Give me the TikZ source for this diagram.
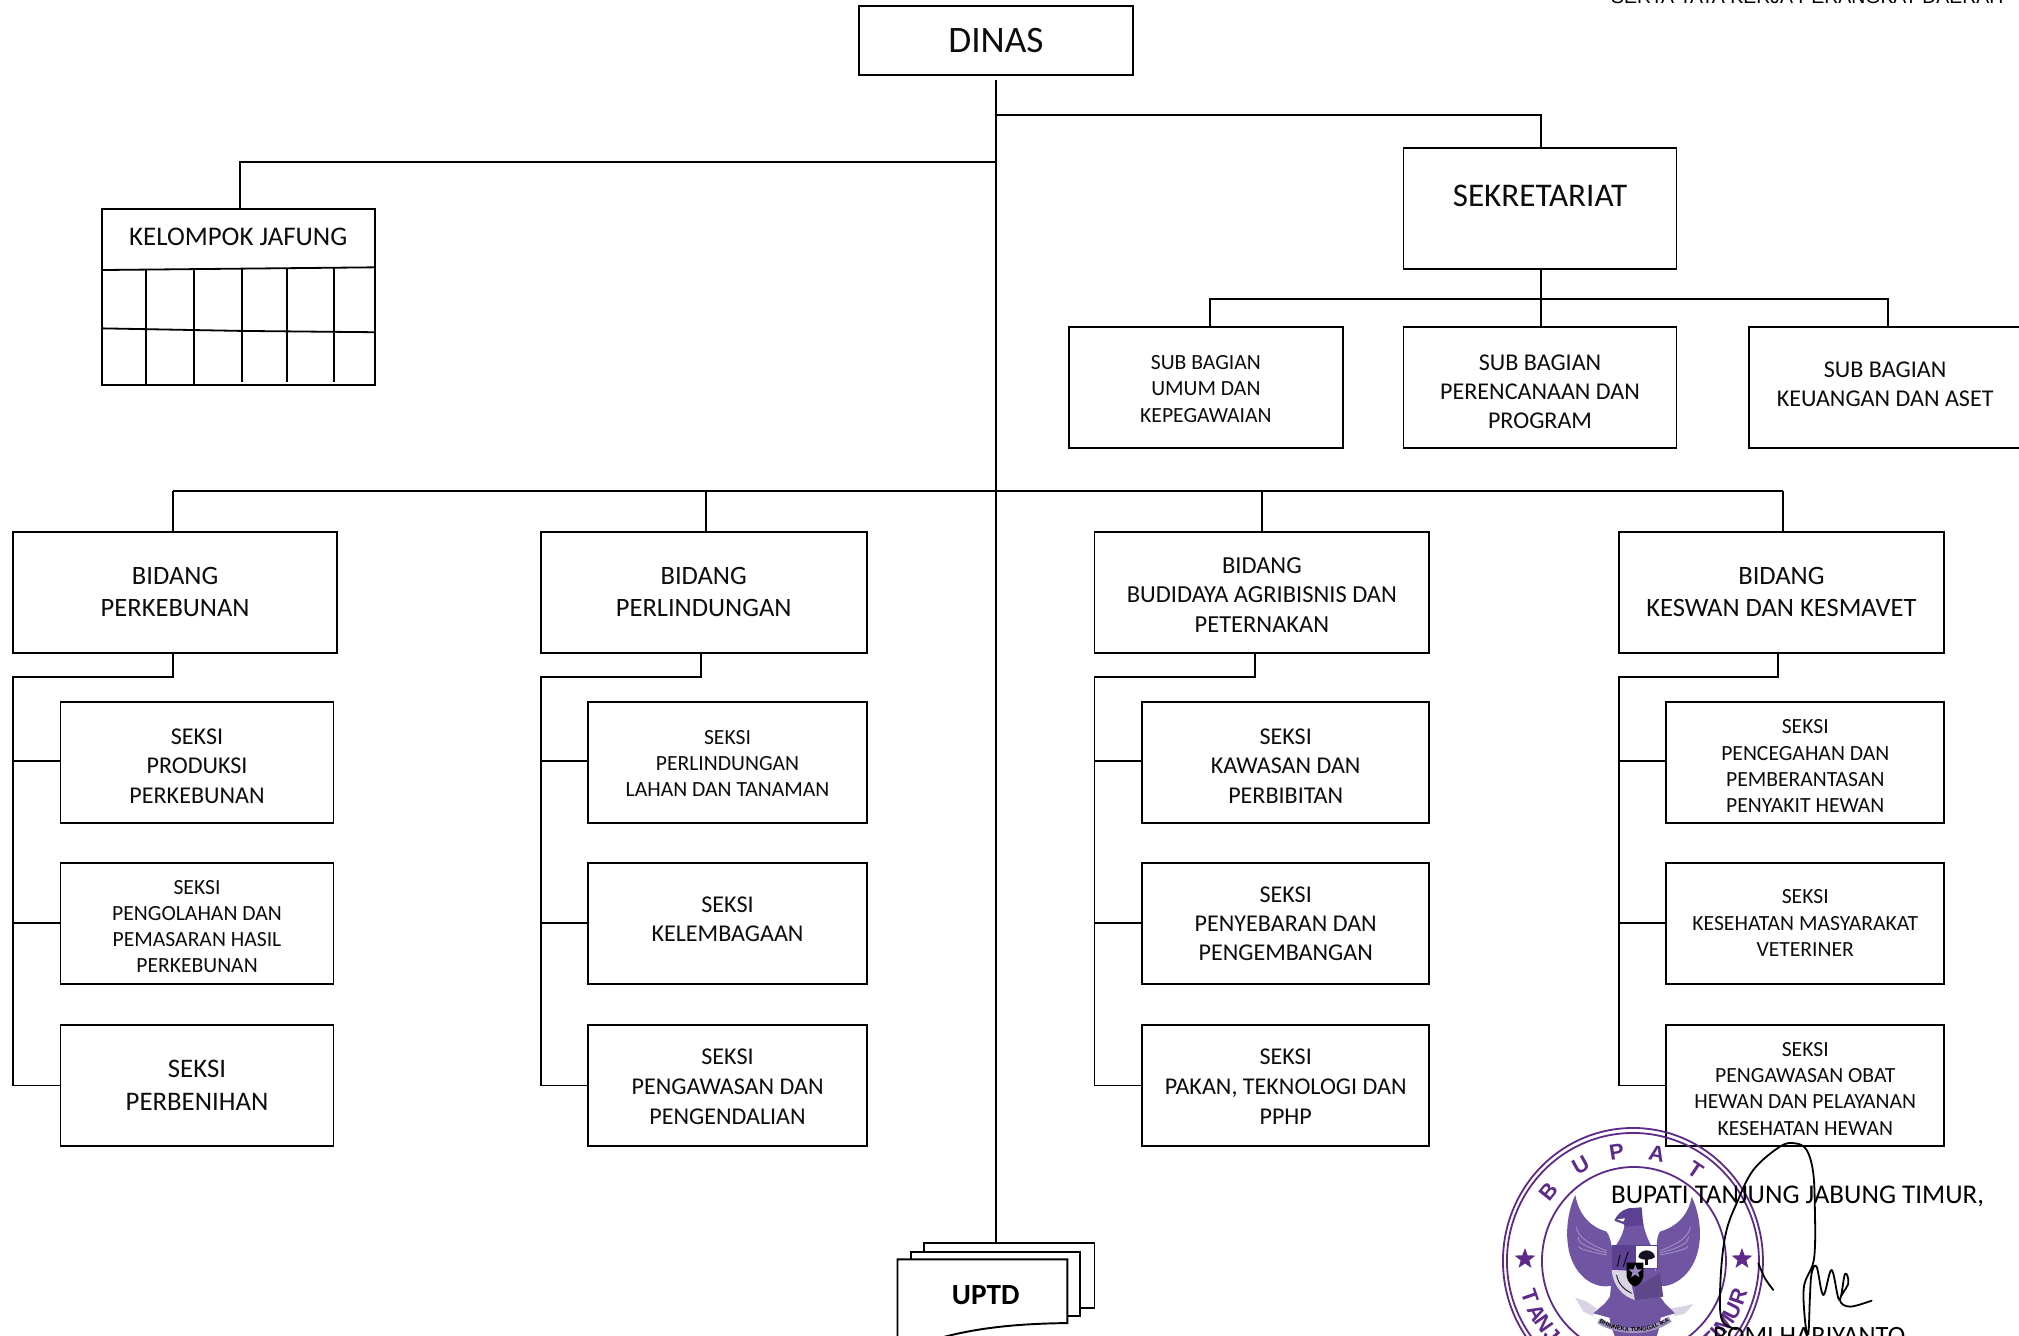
\documentclass[tikz,border=0pt]{standalone}
\usepackage{fontspec}
\setmainfont{Carlito}
\newfontfamily\lib{Liberation Sans}
\usetikzlibrary{shapes.geometric,decorations.text}
\definecolor{sealp}{HTML}{5E2A8A}
\definecolor{wing}{HTML}{7055A3}
\definecolor{wingd}{HTML}{5C4192}
\definecolor{ribbon}{HTML}{D9D4E4}
\newcommand\fsz[2]{\fontsize{#1}{#2}\selectfont}
% name, x1, y1, x2, y2, font style, text offset, text
\newcommand\bx[8]{%
  \pgfmathsetmacro\bw{#4-#2}\pgfmathsetmacro\bh{#5-#3}%
  \pgfmathsetmacro\cx{(#2+#4)/2}\pgfmathsetmacro\cy{(#3+#5)/2}%
  \node[box,minimum width=\bw pt,minimum height=\bh pt] (#1) at (\cx,\cy) {};
  \node[boxtext,#6] (#1t) at (\cx,\cy+#7) {#8};}
\tikzset{
  box/.style={draw=black,fill=white,line width=1.5pt,inner sep=0pt,outer sep=0pt},
  boxtext/.style={align=center,inner sep=0pt,text=black!95},
  fa/.style={font=\fsz{18.7}{23}},
  fb/.style={font=\fsz{16.8}{20.4}},
  fc/.style={font=\fsz{20.6}{25}},
  fd/.style={font=\fsz{20.8}{26}},
  fe/.style={font=\fsz{18.7}{22.5}},
  ff/.style={font=\fsz{19}{23}},
  link/.style={draw=black,line width=1.5pt},
  grid/.style={draw=black,line width=1.4pt},
  seal/.style={draw=sealp,line width=1.4pt},
  sealletter/.style={text=sealp,font=\lib\bfseries\fsz{17}{18},inner sep=0pt},
  sealstar/.style={star,star points=5,star point ratio=2.4,fill=sealp,inner sep=0pt,minimum size=17pt},
  page/.style={draw=black,fill=white,line width=1.5pt},
  sign/.style={draw=black,line width=1.4pt,line cap=round,line join=round},
  feather/.style={draw=white!35!wing,line width=0.7pt},
}
\begin{document}
\begin{tikzpicture}[x=1pt,y=-1pt]
\useasboundingbox (0,0) rectangle (1568,1036.9);
\clip (0,0) rectangle (1568,1036.9);
\node[anchor=base east,inner sep=0pt,font=\lib\fsz{15.1}{16}] (perda) at (1556,3) {SERTA TATA KERJA PERANGKAT DAERAH};
% junctions
\coordinate (t0) at (773.5,62);
\coordinate (t1) at (773.5,89);
\coordinate (t2) at (773.5,126);
\coordinate (t3) at (773.5,381);
\coordinate (sekin) at (1197,89);
\coordinate (kelin) at (186.5,126);
\coordinate (subj) at (1197,232);
\coordinate (sub1j) at (940,232);
\coordinate (sub3j) at (1466,232);
\coordinate (b1j) at (134.5,381);
\coordinate (b2j) at (548,381);
\coordinate (b3j) at (980,381);
\coordinate (b4j) at (1385,381);
\bx{dinas}{667}{5}{880}{58}{font=\fsz{29}{30}}{0}{DINAS}
\bx{sek}{1090}{115}{1302}{209}{font=\fsz{25.7}{27}}{-10}{SEKRETARIAT}
\bx{kel}{79}{162}{291}{299}{font=\fsz{20.9}{22}}{-46.5}{KELOMPOK JAFUNG}
\draw[grid] (79,209.7) -- (291,207.6);
\draw[grid] (79,255) -- (188,257) -- (291,258);
\draw[grid] (113.4,209) -- (113.4,299);
\draw[grid] (150.7,209) -- (150.7,299);
\draw[grid] (188,208) -- (188,296.5);
\draw[grid,line width=1.1pt] (222.9,208) -- (222.9,296.5);
\draw[grid] (259.4,208) -- (259.4,296.5);
\bx{sub1}{830}{254}{1043}{348}{fb}{1}{SUB BAGIAN\\UMUM DAN\\KEPEGAWAIAN}
\bx{sub2}{1090}{254}{1302}{348}{fe}{3}{SUB BAGIAN\\PERENCANAAN DAN\\PROGRAM}
\bx{sub3}{1358}{254}{1570}{348}{fe}{-2.5}{SUB BAGIAN\\KEUANGAN DAN ASET}
\bx{bid1}{10}{413}{262}{507}{fc}{0}{BIDANG\\PERKEBUNAN}
\bx{bid2}{420}{413}{673}{507}{fc}{0}{BIDANG\\PERLINDUNGAN}
\bx{bid3}{850}{413}{1110}{507}{ff}{2}{BIDANG\\BUDIDAYA AGRIBISNIS DAN\\PETERNAKAN}
\bx{bid4}{1257}{413}{1510}{507}{fc}{0}{BIDANG\\KESWAN DAN KESMAVET}
\bx{s11}{47}{545}{259}{639}{fa}{3}{SEKSI\\PRODUKSI\\PERKEBUNAN}
\bx{s12}{47}{670}{259}{764}{fb}{2.5}{SEKSI\\PENGOLAHAN DAN\\PEMASARAN HASIL\\PERKEBUNAN}
\bx{s13}{47}{796}{259}{890}{fd}{0}{SEKSI\\PERBENIHAN}
\bx{s21}{457}{545}{673}{639}{fb}{1}{SEKSI\\PERLINDUNGAN\\LAHAN DAN TANAMAN}
\bx{s22}{457}{670}{673}{764}{fe}{-3}{SEKSI\\KELEMBAGAAN}
\bx{s23}{457}{796}{673}{890}{fa}{1}{SEKSI\\PENGAWASAN DAN\\PENGENDALIAN}
\bx{s31}{887}{545}{1110}{639}{fa}{3}{SEKSI\\KAWASAN DAN\\PERBIBITAN}
\bx{s32}{887}{670}{1110}{764}{fe}{0.5}{SEKSI\\PENYEBARAN DAN\\PENGEMBANGAN}
\bx{s33}{887}{796}{1110}{890}{fa}{1}{SEKSI\\PAKAN, TEKNOLOGI DAN\\PPHP}
\bx{s41}{1294}{545}{1510}{639}{fb}{3}{SEKSI\\PENCEGAHAN DAN\\PEMBERANTASAN\\PENYAKIT HEWAN}
\bx{s42}{1294}{670}{1510}{764}{fb}{0}{SEKSI\\KESEHATAN MASYARAKAT\\VETERINER}
\bx{s43}{1294}{796}{1510}{890}{fb}{2.5}{SEKSI\\PENGAWASAN OBAT\\HEWAN DAN PELAYANAN\\KESEHATAN HEWAN}
% UPTD stack
\path[page] (717.6,1016) -- (717.6,965.5) -- (850,965.5) -- (850,1016) -- cycle;
\path[page] (707.6,1022) -- (707.6,972) -- (838.7,972) -- (838.7,1022) -- cycle;
\path[page] (697,1045) -- (697,978) -- (829,978) -- (829,1027.5) .. controls (790,1028) and (755,1031) .. (720,1042) -- (697,1045);
\node[inner sep=0pt,font=\bfseries\fsz{22.7}{23}] (uptd) at (765.5,1006) {UPTD};
\coordinate (uptdtop) at (773.5,965.5);
% links
\draw[link] (t0) -- (uptdtop);
\draw[link] (t1) -- (sekin) -- (sekin |- sek.north);
\draw[link] (t2) -- (kelin) -- (kelin |- kel.north);
\draw[link] (sekin |- sek.south) -- (sekin |- sub2.north);
\draw[link] (sub1j |- sub1.north) -- (sub1j) -- (sub3j) -- (sub3j |- sub3.north);
\draw[link] (b1j) -- (b4j);
\foreach \j/\b in {b1j/bid1,b2j/bid2,b3j/bid3,b4j/bid4}{\draw[link] (\j) -- (\j |- \b.north);}
\foreach \b/\x/\l/\a/\c/\e in {bid1/134.5/10/s11/s12/s13,bid2/544.5/420/s21/s22/s23,bid3/974.5/850/s31/s32/s33,bid4/1381/1257/s41/s42/s43}{
  \coordinate (railtop) at (\x,526);
  \coordinate (rail) at (\l,526);
  \coordinate (railend) at (\l,843);
  \draw[link] (railtop |- \b.south) -- (railtop) -- (rail) -- (railend) -- (\e.west |- railend);
  \draw[link] (\l,591) -- (\a.west |- 0,591);
  \draw[link] (\l,717) -- (\c.west |- 0,717);
}
% seal, in full-size pixel coordinates
\begin{scope}[x=0.7766pt,y=-0.7766pt]
  \draw[seal] (1633,1261) ellipse [x radius=130,y radius=133];
  \draw[seal] (1633,1261) ellipse [x radius=126,y radius=128];
  \draw[seal] (1634,1261) ellipse [x radius=92,y radius=94];
  \node[sealstar] (st1) at (1525,1259) {};
  \node[sealstar] (st2) at (1742,1259) {};
  \foreach \c/\a in {B/141,U/119,P/99,A/78,T/56}{
    \node[sealletter,rotate=\a-90] (top\a) at ({1634+110*cos(\a)},{1261-110*sin(\a)}) {\c};}
  \foreach \c/\a in {T/199,A/208,N/215,J/222,R/341,U/333,M/325,I/319,T/314}{
    \node[sealletter,rotate=\a-270] (bot\a) at ({1634+110*cos(\a)},{1261-110*sin(\a)}) {\c};}
\end{scope}
% eagle, crop coordinates at 3x from (1560,1190)
\begin{scope}[shift={(1560*0.7766pt,-1190*0.7766pt)},x=0.25887pt,y=-0.25887pt]
  \fill[wing] (46,15) .. controls (58,80) and (95,112) .. (140,125) .. controls (150,140) and (155,160) .. (158,190) -- (160,285) .. controls (120,300) and (55,275) .. (30,195) .. controls (12,130) and (25,60) .. (46,15) -- cycle;
  \fill[wing] (395,20) .. controls (385,80) and (345,112) .. (300,125) .. controls (290,140) and (290,160) .. (290,190) -- (285,285) .. controls (320,300) and (390,270) .. (412,190) .. controls (430,130) and (415,60) .. (395,20) -- cycle;
  \foreach \r in {40,70,100}{
    \draw[feather] (140,{175+\r*0.2}) .. controls ({110-\r*0.5},{150+\r*0.3}) and ({60-\r*0.1},{130+\r*0.4}) .. ({40+\r*0.2},{70+\r});
    \draw[feather] (300,{175+\r*0.2}) .. controls ({330+\r*0.5},{150+\r*0.3}) and ({380+\r*0.1},{130+\r*0.4}) .. ({400-\r*0.2},{70+\r});
  }
  \fill[wing] (195,100) -- (250,100) .. controls (255,130) and (265,150) .. (275,170) -- (300,320) .. controls (300,350) and (310,380) .. (290,440) -- (165,440) .. controls (140,380) and (145,340) .. (150,320) -- (165,170) .. controls (180,150) and (190,130) .. (195,100) -- cycle;
  \fill[wingd] (163,92) .. controls (170,75) and (185,60) .. (205,55) -- (245,52) -- (250,105) -- (195,110) .. controls (195,100) and (180,100) .. (163,92) -- cycle;
  \fill[white] (172,88) -- (195,85) -- (190,95) -- cycle;
  \fill[wingd] (155,165) -- (225,165) -- (225,240) -- (155,240) -- cycle;
  \draw[black,line width=0.7pt] (180,195) -- (172,230) (205,185) -- (190,230);
  \fill[white] (225,165) -- (292,165) -- (292,235) -- (225,235) -- cycle;
  \draw[wingd,line width=0.5pt] (225,165) rectangle (292,235);
  \fill[black!75!wingd] (235,200) .. controls (240,175) and (280,175) .. (285,200) .. controls (280,212) and (240,212) .. (235,200) -- cycle;
  \fill[black!75!wingd] (254,205) rectangle (264,225);
  \fill[ribbon] (155,240) -- (205,242) -- (225,330) .. controls (190,320) and (160,290) .. (155,240) -- cycle;
  \draw[black!70!wingd,line width=0.7pt] (170,255) .. controls (175,285) and (195,300) .. (215,310);
  \fill[black] (200,218) -- (250,218) -- (250,260) .. controls (245,280) and (235,285) .. (225,290) .. controls (215,285) and (205,280) .. (200,260) -- cycle;
  \node[star,star points=5,star point ratio=2.4,fill=wing!70!white,inner sep=0pt,minimum size=11pt] (ebst) at (226,245) {};
  \fill[wing!85!black] (225,292) -- (300,250) -- (310,320) -- (225,330) -- cycle;
  \fill[ribbon] (45,322) -- (80,335) -- (110,355) -- (98,378) -- (70,365) -- (62,352) -- cycle;
  \fill[ribbon] (400,342) -- (365,350) -- (330,355) -- (345,378) -- (372,372) -- (385,360) -- cycle;
  \fill[wing] (100,370) -- (135,340) -- (150,320) -- (155,385) -- cycle;
  \fill[wing] (345,370) -- (315,340) -- (300,320) -- (295,385) -- cycle;
  \fill[wingd!45!ribbon] (120,385) .. controls (190,425) and (260,425) .. (325,380) -- (335,395) .. controls (270,440) and (180,440) .. (112,400) -- cycle;
  \path[decorate,decoration={text along path,text align=center,text={|\lib\bfseries\fsz{4.6}{5}|BHINNEKA TUNGGAL IKA}}] (116,398) .. controls (185,435) and (265,435) .. (330,392);
\end{scope}
% signature block text
\node[anchor=base,inner sep=0pt,font=\fsz{21}{22}] (bup) at (1396,934.5) {BUPATI TANJUNG JABUNG TIMUR,};
\node[anchor=base,inner sep=0pt,font=\fsz{20.5}{22}] (nama) at (1405,1044) {ROMI HARIYANTO};
% signature, crop coordinates at 3x from (1700,1130)
\begin{scope}[shift={(1700*0.7766pt,-1130*0.7766pt)},x=0.25887pt,y=-0.25887pt]
  \draw[sign] plot[smooth,tension=0.6] coordinates {(110,598) (72,580) (60,530) (65,400) (80,300) (110,220) (160,120) (240,50) (285,40) (320,60) (340,130) (345,250) (345,350) (338,405) (312,470) (315,570) (325,612) (330,500) (335,430) (350,410) (370,495) (395,420) (418,510) (435,432) (445,460) (420,510) (450,530) (515,512)};
  \draw[sign] plot[smooth] coordinates {(175,400) (195,445) (220,480)};
\end{scope}
\end{tikzpicture}
\end{document}
